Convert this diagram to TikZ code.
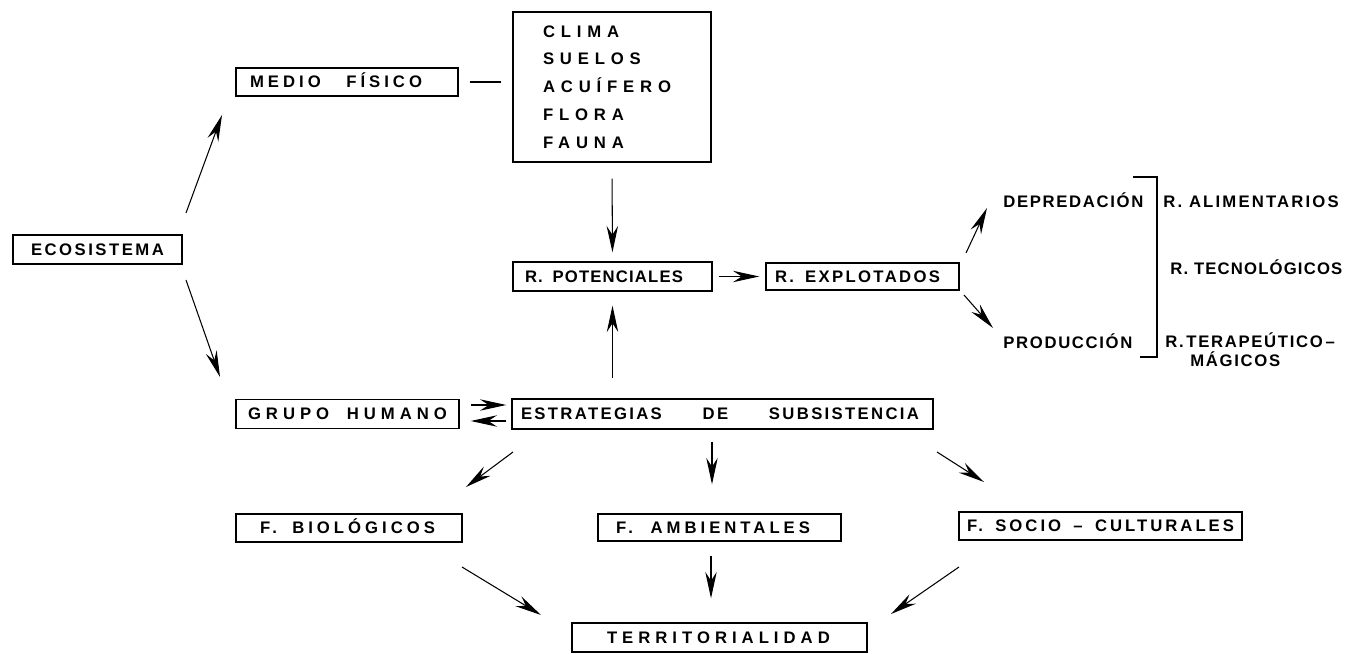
\documentclass[tikz,border=0pt]{standalone}
\usepackage{fontspec}
\setmainfont{Liberation Sans}
\usetikzlibrary{arrows.meta}

\newcommand\rotulo[1]{\fontspec[LetterSpace=#1]{Liberation Sans}\bfseries\fontsize{9.5pt}{12pt}\selectfont}
\tikzset{esp/.style={font=\rotulo{#1}}}

\begin{document}
\begin{tikzpicture}
\tikzstyle{caja} = [rectangle, draw=black, line width=0.8pt, align=left]
\tikzstyle{fila} = [caja, text height=6.8pt, text depth=0pt, inner ysep=0pt, minimum height=0.58cm]
\tikzstyle{texto} = [inner sep=0pt, anchor=base west]
\tikzstyle{arrow} = [semithick,->,>={Stealth[length=15pt,width=6.5pt,inset=5pt]}]

\useasboundingbox (0,0) rectangle (27.04,-13.08);

\node [fila, esp=15, text width=2.66cm, inner xsep=0.36cm] (eco) at (1.95,-4.99) {ECOSISTEMA};
\node [fila, esp=24, text width=3.88cm, inner xsep=0.28cm, minimum height=0.56cm] (medio) at (6.94,-1.64) {\makebox[3.44cm]{MEDIO\hfill FÍSICO}};
\node [caja, font={\rotulo{35}\fontsize{9.5pt}{15.8pt}\selectfont}, text width=2.76cm, inner xsep=0.6cm, minimum height=3cm] (fisico) at (12.24,-1.74) {CLIMA\\SUELOS\\ACUÍFERO\\FLORA\\FAUNA};

\node [fila, esp=7, text width=3.5cm, inner xsep=0.24cm] (rpot) at (12.25,-5.53) {\makebox[3.16cm]{R.\hfill POTENCIALES}};
\node [fila, esp=14, text width=3.5cm, inner xsep=0.18cm, minimum height=0.54cm] (rexpl) at (17.25,-5.53) {\makebox[3.30cm]{R.\hfill EXPLOTADOS}};
\node [texto, esp=10] (depred) at (20.06,-4.16) {DEPREDACIÓN};
\node [texto, esp=10] (prod) at (20.06,-6.96) {PRODUCCIÓN};
\node [texto, esp=13] (ralim) at (23.26,-4.16) {R.\ ALIMENTARIOS};
\node [texto, esp=7] (rtec) at (23.40,-5.50) {R.\ TECNOLÓGICOS};
\node [inner sep=0pt, anchor=west, align=left, font={\rotulo{10}\fontsize{9.5pt}{10.8pt}\selectfont}] (rterap) at (23.30,-7.00) {R.\,TERAPEÚTICO\,–\\\hspace*{0.5cm}MÁGICOS};

\node [fila, esp=30, text width=3.98cm, inner xsep=0.24cm] (grupo) at (6.95,-8.28) {\makebox[3.98cm]{GRUPO\hfill HUMANO}};
\node [fila, esp=14, text width=8.06cm, inner xsep=0.18cm, minimum height=0.6cm] (estr) at (14.45,-8.28) {\makebox[7.96cm]{ESTRATEGIAS\hfill DE\hfill SUBSISTENCIA}};

\node [fila, esp=24, text width=3.56cm, inner xsep=0.48cm, minimum height=0.56cm] (fbio) at (6.98,-10.56) {\makebox[3.5cm]{F.\hfill BIOLÓGICOS}};
\node [fila, esp=24, text width=4.14cm, inner xsep=0.36cm, minimum height=0.54cm] (famb) at (14.39,-10.55) {\makebox[3.88cm]{F.\hfill AMBIENTALES}};
\node [fila, esp=18, text width=5.34cm, inner xsep=0.16cm, minimum height=0.56cm] (fsoc) at (22.01,-10.52) {\makebox[5.34cm]{F.\hfill SOCIO\hfill –\hfill CULTURALES}};
\node [fila, esp=30, text width=4.5cm, inner xsep=0.70cm] (terr) at (14.39,-12.75) {TERRITORIALIDAD};

% free ends of the slanted arrows
\coordinate (p1) at (3.72,-4.26);
\coordinate (p2) at (4.44,-2.30);
\coordinate (p3) at (3.72,-5.60);
\coordinate (p4) at (4.40,-7.54);
\coordinate (p5) at (19.32,-5.06);
\coordinate (p6) at (19.74,-4.16);
\coordinate (p7) at (19.28,-5.90);
\coordinate (p8) at (19.86,-6.56);
\coordinate (p9) at (10.26,-9.04);
\coordinate (p10) at (9.32,-9.74);
\coordinate (p11) at (18.74,-9.04);
\coordinate (p12) at (19.68,-9.64);
\coordinate (p13) at (9.24,-11.34);
\coordinate (p14) at (10.82,-12.30);
\coordinate (p15) at (19.18,-11.34);
\coordinate (p16) at (17.82,-12.28);

\draw [arrow] (p1) -- (p2);
\draw [arrow] (p3) -- (p4);
\draw [semithick, shorten <=0.22cm, shorten >=0.22cm] (medio.east) -- (medio.east -| fisico.west);
\draw [arrow, shorten <=0.32cm, shorten >=0.18cm] (fisico.south) -- (rpot.north);
\draw [arrow, shorten <=0.40cm, shorten >=0.28cm] (rpot.south |- estr.north) -- (rpot.south);
\draw [arrow, shorten <=0.12cm, shorten >=0.12cm] (rpot) -- (rexpl);
\draw [arrow] (p5) -- (p6);
\draw [arrow] (p7) -- (p8);
\draw [arrow, shorten <=0.22cm, shorten >=0.10cm] ([yshift=0.18cm]grupo.east) -- ([yshift=0.18cm]grupo.east -| estr.west);
\draw [arrow, shorten <=0.10cm, shorten >=0.22cm] ([yshift=-0.14cm]grupo.east -| estr.west) -- ([yshift=-0.14cm]grupo.east);
\draw [arrow] (p9) -- (p10);
\draw [arrow, shorten <=0.24cm, shorten >=0.58cm] ([xshift=-0.15cm]famb.north |- estr.south) -- ([xshift=-0.15cm]famb.north);
\draw [arrow] (p11) -- (p12);
\draw [arrow] (p13) -- (p14);
\draw [arrow, shorten <=0.28cm, shorten >=0.48cm] ([xshift=-0.17cm]famb.south) -- ([xshift=-0.17cm]famb.south |- terr.north);
\draw [arrow] (p15) -- (p16);

% bracket round the kinds of resources
\draw [semithick] (22.66,-3.54) -- (23.14,-3.54) -- (23.14,-7.14) -- (22.80,-7.14);
\end{tikzpicture}
\end{document}
